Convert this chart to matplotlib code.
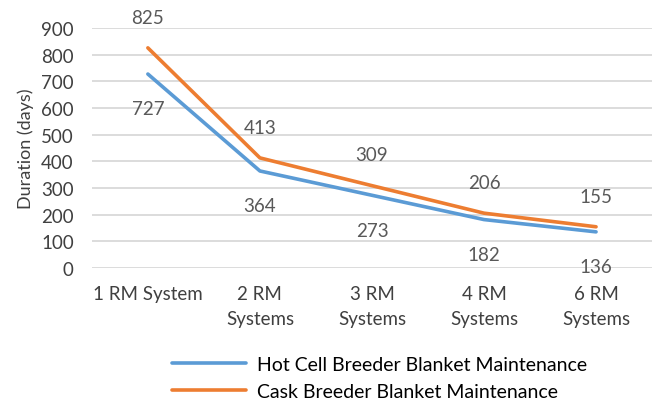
import matplotlib.pyplot as plt

categories = ['1 RM System', '2 RM\nSystems', '3 RM\nSystems', '4 RM\nSystems', '6 RM\nSystems']
hot_cell = [727, 364, 273, 182, 136]
cask = [825, 413, 309, 206, 155]

plt.rcParams['font.family'] = ['Lato', 'DejaVu Sans']

fig = plt.figure(figsize=(6.56, 4.06), dpi=100)
ax = fig.add_axes([0.140, 0.337, 0.854, 0.592])

x = range(len(categories))
l1, = ax.plot(x, hot_cell, color='#5B9BD5', lw=2.6, solid_capstyle='round',
              label='Hot Cell Breeder Blanket Maintenance')
l2, = ax.plot(x, cask, color='#ED7D31', lw=2.6, solid_capstyle='round',
              label='Cask Breeder Blanket Maintenance')

for i, v in enumerate(hot_cell):
    ax.annotate(str(v), (i, v), xytext=(0, -19), textcoords='offset points',
                ha='center', va='top', fontsize=13.5, color='#595959')
for i, v in enumerate(cask):
    ax.annotate(str(v), (i, v), xytext=(0, 16), textcoords='offset points',
                ha='center', va='bottom', fontsize=13.5, color='#595959')

ax.set_xlim(-0.5, len(categories) - 0.5)
ax.set_ylim(0, 900)
ax.set_yticks(range(0, 901, 100))
ax.set_xticks(list(x))
ax.set_xticklabels(categories, fontsize=13.5, color='#404040', linespacing=1.55)
ax.tick_params(axis='y', labelsize=13.5, labelcolor='#404040', length=0, pad=13)
ax.tick_params(axis='x', length=0, pad=12)
ax.set_ylabel('Duration (days)', fontsize=13, color='#404040', labelpad=5)
ax.grid(axis='y', color='#D9D9D9', lw=1.3)
ax.set_axisbelow(True)
for s in ax.spines.values():
    s.set_visible(False)

fig.legend(handles=[l1, l2], loc='upper left', bbox_to_anchor=(0.262, 0.12),
           frameon=False, fontsize=14, handlelength=3.8, handletextpad=0.6,
           labelspacing=0.5, borderaxespad=0, borderpad=0)

fig.savefig('out.png', dpi=100)
